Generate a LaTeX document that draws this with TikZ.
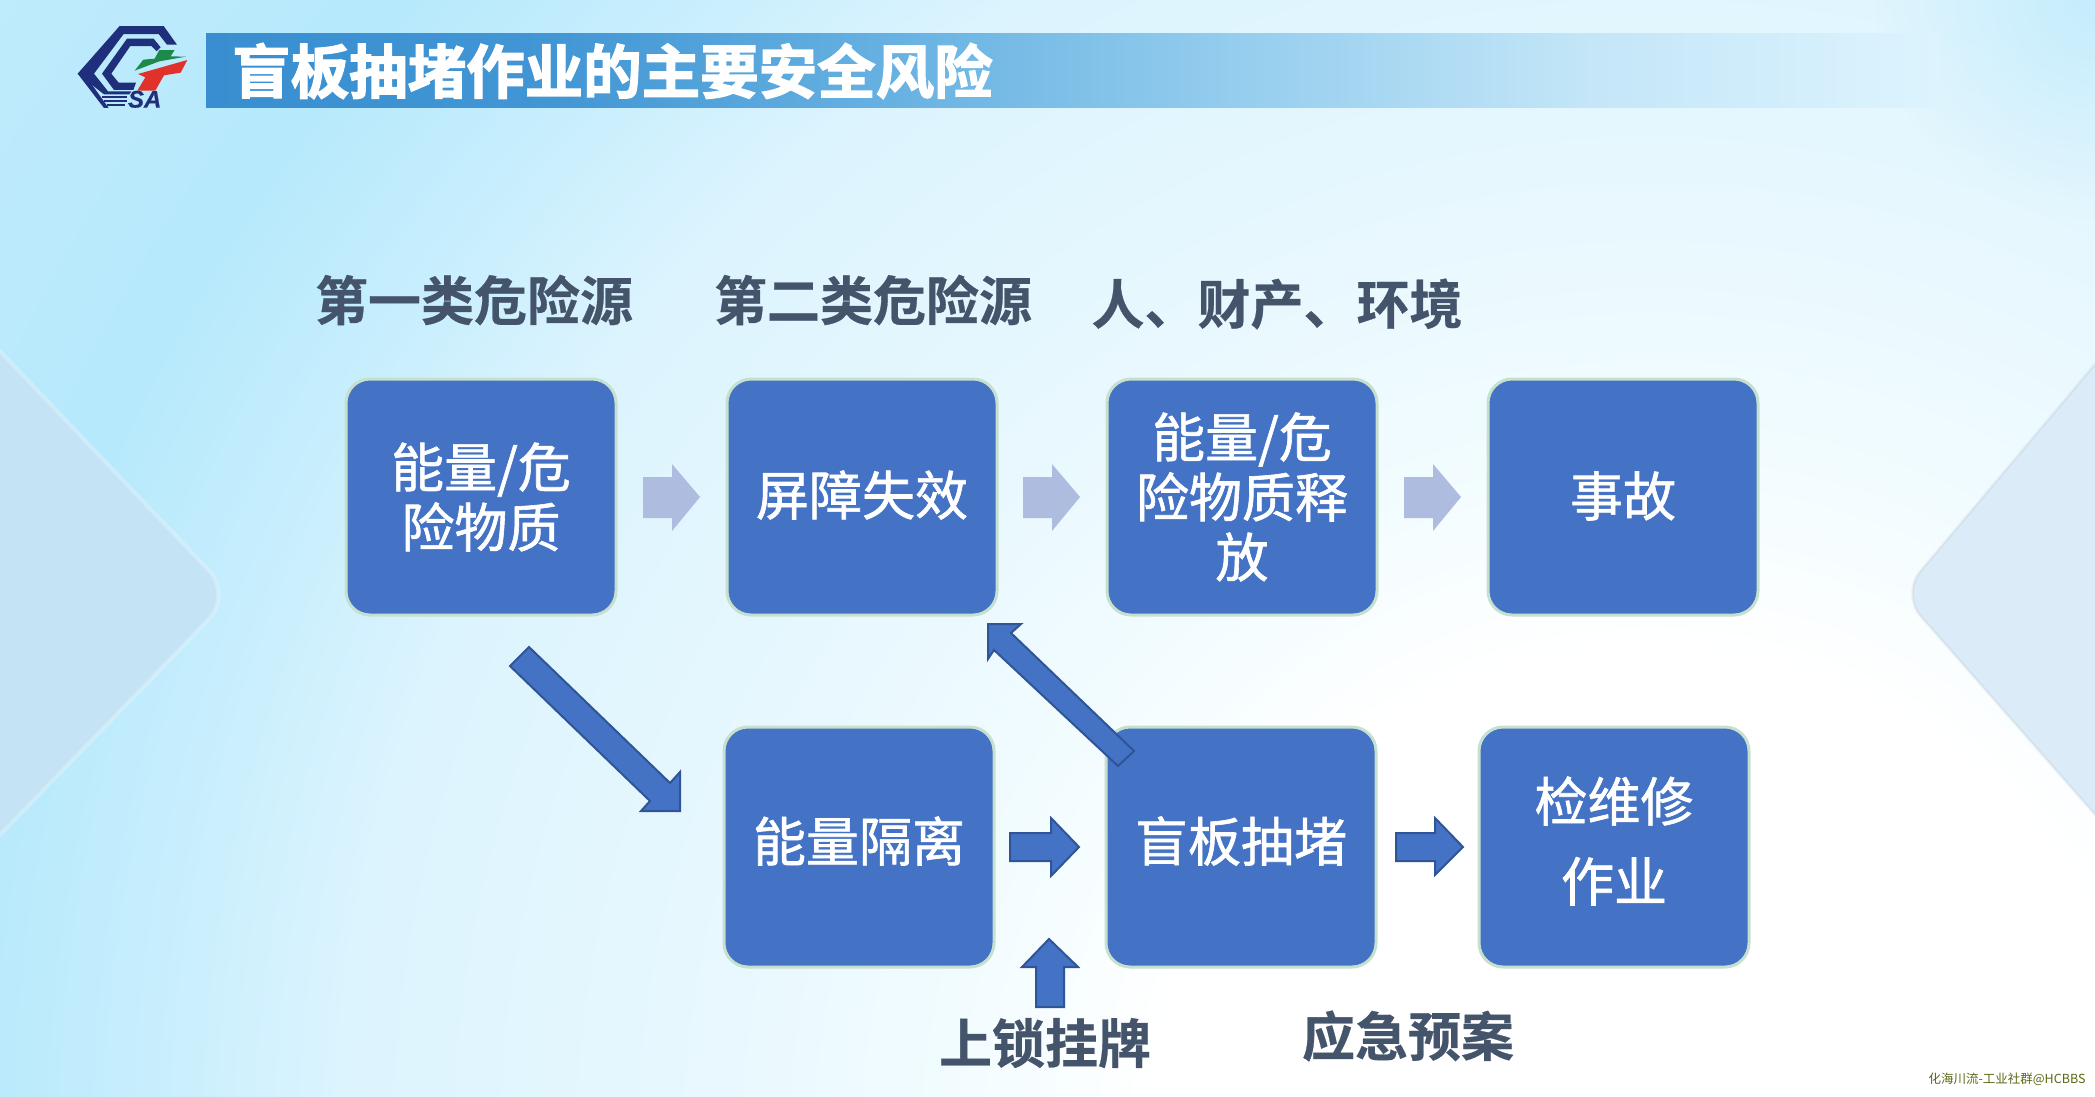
\documentclass[tikz,border=0pt]{standalone}
\usepackage{fontspec}
\usetikzlibrary{fadings}
\setmainfont{Noto Sans CJK SC}
\newfontfamily\boxfont[FakeBold=1.2]{Noto Sans CJK SC}
\newfontfamily\headfont[UprightFont=* Bold,FakeBold=0.5]{Noto Sans CJK SC}
\newfontfamily\titlefont[UprightFont=* Bold,FakeBold=2.2]{Noto Sans CJK SC}
\newfontfamily\logofont[UprightFont=* Bold Italic,FakeBold=0.6]{Liberation Sans}
\newcommand{\up}[2]{\raisebox{#1}[\height][\depth]{#2}}
\definecolor{boxblue}{HTML}{4472C4}
\definecolor{boxedge}{HTML}{C5E0CF}
\definecolor{arrowedge}{HTML}{2F5597}
\definecolor{lightarrow}{HTML}{AEBCDF}
\definecolor{headgrey}{HTML}{44546A}
\definecolor{navy}{HTML}{1F2F7C}
\definecolor{logogreen}{HTML}{1E8A4A}
\definecolor{logored}{HTML}{E0312B}
\definecolor{corner}{HTML}{BDEAFC}
\definecolor{bgA}{HTML}{F2FCFF}
\definecolor{bgB}{HTML}{E6F7FE}
\definecolor{bgC}{HTML}{DCF4FE}
\definecolor{bgD}{HTML}{C8EEFD}
\definecolor{bgE}{HTML}{B6E9FC}
\definecolor{bgF}{HTML}{BFEBFC}
\definecolor{tA}{HTML}{388ED0}
\definecolor{tB}{HTML}{4296D4}
\definecolor{tC}{HTML}{68B2E2}
\definecolor{tD}{HTML}{96CEEE}
\definecolor{tE}{HTML}{C4E6F8}
\definecolor{tF}{HTML}{DDF4FE}
\definecolor{chevL}{HTML}{C4E4F6}
\definecolor{chevR}{HTML}{DBEBF8}
\definecolor{wmark}{HTML}{5C6814}
\pgfdeclareradialshading{bgsh}{\pgfpoint{0bp}{0bp}}{
  color(0bp)=(white);
  color(6.2bp)=(white);
  color(8.7bp)=(bgA);
  color(12.4bp)=(bgB);
  color(16.2bp)=(bgC);
  color(18.6bp)=(bgD);
  color(21.1bp)=(bgE);
  color(25bp)=(bgF);
  color(50bp)=(bgF)}
\pgfdeclarehorizontalshading{titlesh}{100bp}{
  color(0bp)=(tA);
  color(25bp)=(tA);
  color(35bp)=(tB);
  color(45bp)=(tC);
  color(55bp)=(tD);
  color(65bp)=(tE);
  color(75bp)=(tF);
  color(100bp)=(tF)}
\tikzfading[name=cornerfade, inner color=transparent!25, outer color=transparent!100]
\tikzset{
  procbox/.style={draw=boxedge, line width=3pt, fill=boxblue, rounded corners=24pt,
    minimum width=270pt, minimum height=236pt, inner sep=0pt, outer sep=0pt,
    text=white, align=center, font=\boxfont\fontsize{53}{60}\selectfont},
  lowbox/.style={procbox, minimum height=240pt},
  headtext/.style={text=headgrey, inner sep=0pt, font=\headfont\fontsize{53}{60}\selectfont},
  blockarrow/.style={fill=boxblue, draw=arrowedge, line width=2pt, line join=miter},
  softarrow/.style={fill=lightarrow},
  logofill/.style={fill=navy}
}
\begin{document}
\begin{tikzpicture}[x=1pt,y=-1pt]
\useasboundingbox (0,0) rectangle (2095,1096);
% background
\begin{scope}
  \clip (0,0) rectangle (2095,1096);
  \shade[shading=bgsh] (1650,1150) circle (2012);
  \fill[corner, path fading=cornerfade] (2095,0) circle (220);
  % side chevrons
  \fill[rounded corners=34pt, fill=chevL, draw=white, draw opacity=.25, line width=4pt]
     (-60,288) -- (232,595) -- (-60,897) -- cycle;
  \fill[rounded corners=30pt, fill=chevR, draw=black, draw opacity=.04, line width=3pt]
     (2155,293) -- (1901,594) -- (2155,883) -- cycle;
\end{scope}
% title bar
\shade[shading=titlesh] (206,33) rectangle (1940,107);
\node[anchor=west, inner sep=0pt, text=white, font=\titlefont\fontsize{58.5}{64}\selectfont] (title) at (232,71) {盲板抽堵作业的主要安全风险};
% logo
\begin{scope}[shift={(72,22)},x=0.3333pt,y=-0.3333pt]
  \fill[logofill] (143,12) -- (275,12) -- (315,68) -- (285,68) -- (260,36) -- (155,36) -- (66,155) -- (108,208) -- (178,208) -- (172,217) -- (96,217) -- (17,155) -- cycle;
  \fill[logofill] (165,50) -- (245,50) -- (266,76) -- (254,88) -- (238,72) -- (175,72) -- (118,155) -- (140,182) -- (192,182) -- (184,204) -- (126,204) -- (90,155) -- cycle;
  \fill[logofill] (17,155) -- (96,258) -- (110,258) -- (40,160) -- cycle;
  \fill[logofill] (90,222) rectangle (166,227);
  \fill[logofill] (96,234) rectangle (164,239);
  \fill[logofill] (104,246) rectangle (160,251);
  \fill[logogreen] (188,146) -- (214,113) -- (248,110) -- (262,84) -- (308,84) -- (296,103) -- (342,104) -- (262,118) -- cycle;
  \fill[logored] (198,156) -- (346,114) -- (326,152) -- (276,160) -- (250,206) -- (196,206) -- (220,166) -- cycle;
  \node[inner sep=0pt, text=navy, font=\logofont\fontsize{24}{24}\selectfont] (logotext) at (218,232) {SA};
\end{scope}
% headings
\node[headtext] (h1) at (474,300) {第一类危险源};
\node[headtext] (h2) at (873,300) {第二类危险源};
\node[headtext] (h3) at (1277,304) {人、财产、环境};
\node[headtext] (h4) at (1045,1043) {上锁挂牌};
\node[headtext] (h5) at (1408,1036) {应急预案};
% boxes
\node[procbox] (b1) at (481,497) {能量/危\\险物质};
\node[procbox] (b2) at (862,497) {\up{2pt}{屏障失效}};
\node[procbox] (b3) at (1242,497) {能量/危\\险物质释\\放};
\node[procbox] (b4) at (1623,497) {\up{1pt}{事故}};
\node[lowbox] (b5) at (859,847) {\up{6pt}{能量隔离}};
\node[lowbox] (b6) at (1241,847) {\up{6pt}{盲板抽堵}};
\node[lowbox, font=\boxfont\fontsize{53}{80}\selectfont] (b7) at (1614,847) {\up{6pt}{检维修}\\\up{6pt}{作业}};
% pale arrows
\fill[softarrow] (643,477) -- (672,477) -- (672,464) -- (700,497) -- (672,531) -- (672,518) -- (643,518) -- cycle;
\fill[softarrow] (1023,477) -- (1052,477) -- (1052,464) -- (1080,497) -- (1052,531) -- (1052,518) -- (1023,518) -- cycle;
\fill[softarrow] (1404,477) -- (1433,477) -- (1433,464) -- (1461,497) -- (1433,531) -- (1433,518) -- (1404,518) -- cycle;
% block arrows
\draw[blockarrow] (529,647) -- (670,783) -- (680,772) -- (680,811) -- (641,811) -- (650,801) -- (510,666) -- cycle;
\draw[blockarrow] (988,624) -- (1021,624) -- (1011,633) -- (1134,751) -- (1118,766) -- (994,650) -- (988,659) -- cycle;
\draw[blockarrow] (1010,833) -- (1051,833) -- (1051,818) -- (1079,847) -- (1051,876) -- (1051,861) -- (1010,861) -- cycle;
\draw[blockarrow] (1396,833) -- (1435,833) -- (1435,818) -- (1463,847) -- (1435,875) -- (1435,861) -- (1396,861) -- cycle;
\draw[blockarrow] (1049,939) -- (1078,967) -- (1064,967) -- (1064,1007) -- (1036,1007) -- (1036,967) -- (1022,967) -- cycle;
% watermark
\node[inner sep=0pt, text=wmark, font=\fontsize{12.5}{14}\selectfont] (wm) at (2007,1079) {化海川流-工业社群@HCBBS};
\end{tikzpicture}
\end{document}
